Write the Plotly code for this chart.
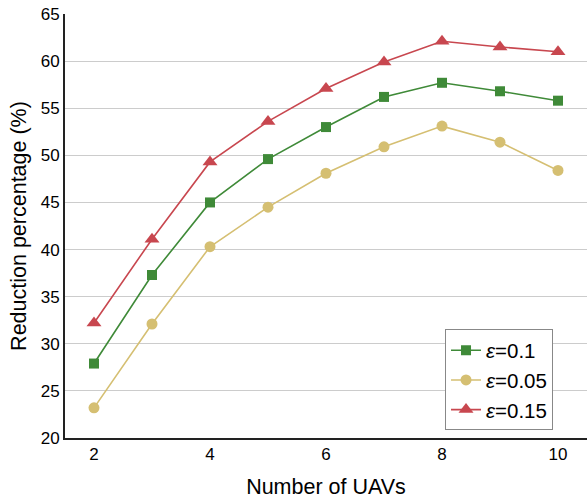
import plotly.graph_objects as go

uavs = [2, 3, 4, 5, 6, 7, 8, 9, 10]
eps_01 = [27.9, 37.3, 45.0, 49.6, 53.0, 56.2, 57.7, 56.8, 55.8]
eps_005 = [23.2, 32.1, 40.3, 44.5, 48.1, 50.9, 53.1, 51.4, 48.4]
eps_015 = [32.2, 41.1, 49.3, 53.6, 57.1, 59.9, 62.1, 61.5, 61.0]
x_ticks = [2, 4, 6, 8, 10]
y_ticks = [20, 25, 30, 35, 40, 45, 50, 55, 60, 65]

fig = go.Figure()
fig.add_trace(go.Scatter(x=uavs, y=eps_01, mode="lines+markers", name="<i>ε</i>=0.1",
                         line=dict(color="#3f8a38", width=1.6),
                         marker=dict(symbol="square", size=10, color="#3f8a38")))
fig.add_trace(go.Scatter(x=uavs, y=eps_005, mode="lines+markers", name="<i>ε</i>=0.05",
                         line=dict(color="#d5bf72", width=1.6),
                         marker=dict(symbol="circle", size=11, color="#d5bf72")))
fig.add_trace(go.Scatter(x=uavs, y=eps_015, mode="lines+markers", name="<i>ε</i>=0.15",
                         line=dict(color="#c8474f", width=1.6),
                         marker=dict(symbol="triangle-up", size=13, color="#c8474f")))

fig.update_layout(
    width=587, height=499,
    margin=dict(l=65, r=0, t=14, b=61),
    paper_bgcolor="white", plot_bgcolor="white",
    font=dict(family="Liberation Sans, Arial, sans-serif", color="black"),
    showlegend=True,
    legend=dict(x=0.728, y=0.256, xanchor="left", yanchor="top",
                bordercolor="#888888", borderwidth=1, bgcolor="white",
                font=dict(size=20.5), tracegroupgap=0),
    xaxis=dict(range=[1.5, 10.5], tickvals=x_ticks, showgrid=False, zeroline=False,
               showline=True, linecolor="#222222", linewidth=2, ticks="",
               tickfont=dict(size=17), automargin=False,
               title=dict(text="Number of UAVs", font=dict(size=21.5), standoff=16)),
    yaxis=dict(range=[20, 65], tickvals=y_ticks, showgrid=True, gridcolor="#cccccc",
               gridwidth=1.2, zeroline=False,
               showline=True, linecolor="#222222", linewidth=2, ticks="",
               tickfont=dict(size=17), automargin=False,
               title=dict(text="Reduction percentage (%)", font=dict(size=21.5), standoff=8)),
)

fig.write_html("out.html", config={"displayModeBar": False},
               post_script="document.body.style.margin='0';")
